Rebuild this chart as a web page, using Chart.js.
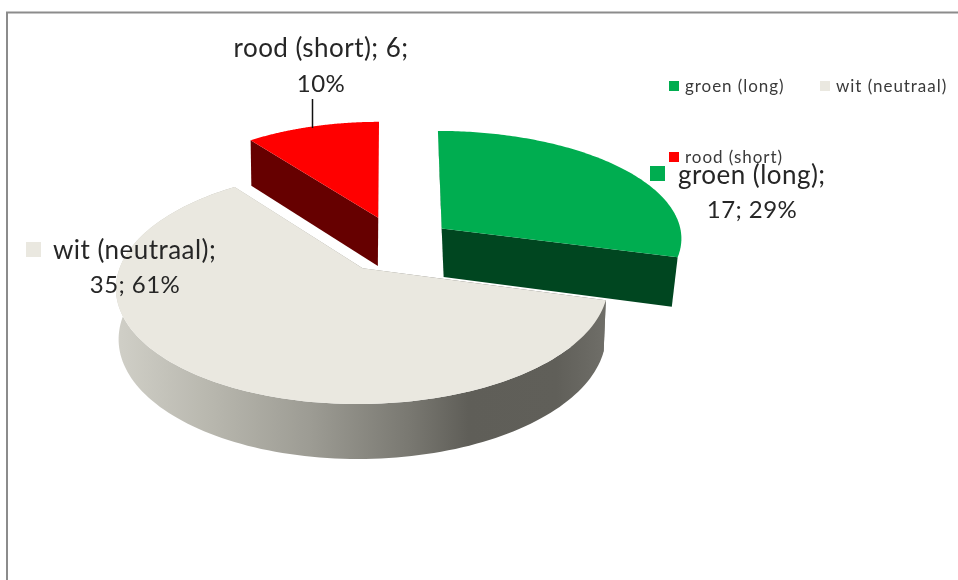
<!DOCTYPE html>
<html>
<head>
<meta charset="utf-8">
<title>groen / wit / rood</title>
<script src="https://cdn.jsdelivr.net/npm/chart.js@4/dist/chart.umd.min.js"></script>
<style>
  html, body { margin: 0; padding: 0; background: #fff; overflow: hidden; }
  canvas { display: block; }
</style>
</head>
<body>
<canvas id="chart-pie" width="958" height="580"></canvas>
<script>
const categories = ['groen (long)', 'wit (neutraal)', 'rood (short)'];
const counts = [17, 35, 6];
const percents = ['29%', '61%', '10%'];

const topColors = ['#00ad50', '#eae8e0', '#ff0000'];
const wallColors = ['#004620', null, '#660000'];

// perspective of the pie plane (screen position of the plane origin, radii)
const ORIGIN = { x: 390, y: 246 };
const RX = 237;
const RY = 108;

// per slice: explode offset in plane units, perspective strength, radius scale
const explode = [[0.221, -0.165], [-0.112, 0.2], [-0.051, -0.266]];
const persp = [0.08, 0.15, 0.08];
const radiusScale = [1.02, 0.995, 0.97];
// bottom face is a bit narrower than the top: centre x, scale
const wallShrink = [[500, 0.967], [390, 0.99], [340, 0.992]];

// back slices first, the big one sits on top of their walls
const drawOrder = [2, 0, 1];

function project(i, u, v) {
  const pu = u * radiusScale[i] + explode[i][0];
  const pv = v + explode[i][1];
  const w = 1 - persp[i] * pv;
  return { x: ORIGIN.x + RX * pu / w, y: ORIGIN.y + RY * pv / w };
}

function lower(i, p) {
  const [cx, s] = wallShrink[i];
  return { x: cx + (p.x - cx) * s, y: p.y + 44 + 0.036 * (p.y - 100) };
}

function witGradient(ctx) {
  const g = ctx.createLinearGradient(117, 0, 605, 0);
  g.addColorStop(0, '#d0cfc7');
  g.addColorStop(0.2, '#b7b6ad');
  g.addColorStop(0.4, '#9c9b93');
  g.addColorStop(0.6, '#797871');
  g.addColorStop(0.72, '#5f5e58');
  g.addColorStop(0.9, '#605f59');
  g.addColorStop(1, '#6f6e68');
  return g;
}

function fillPath(ctx, pts) {
  ctx.beginPath();
  pts.forEach((p, k) => k ? ctx.lineTo(p.x, p.y) : ctx.moveTo(p.x, p.y));
  ctx.closePath();
  ctx.fill();
}

function drawSlice(ctx, i, arc) {
  const apex = project(i, 0, 0);
  const rim = [];
  const steps = 140;
  const sweep = arc.endAngle - arc.startAngle;
  for (let s = 0; s <= steps; s++) {
    const a = arc.startAngle + sweep * s / steps;
    rim.push(project(i, Math.cos(a), Math.sin(a)));
  }
  const first = rim[0];
  const last = rim[steps];

  ctx.fillStyle = wallColors[i] || witGradient(ctx);
  fillPath(ctx, [apex, first, lower(i, first), lower(i, apex)]);
  fillPath(ctx, [apex, last, lower(i, last), lower(i, apex)]);
  // the small slices only show their cut faces from this side
  if (sweep > Math.PI) fillPath(ctx, rim.concat(rim.map(p => lower(i, p)).reverse()));

  ctx.fillStyle = topColors[i];
  fillPath(ctx, [apex].concat(rim));
}

function drawText(ctx, str, x, y, font, color, align, spacing) {
  ctx.font = font;
  ctx.fillStyle = color;
  ctx.textAlign = align;
  ctx.textBaseline = 'alphabetic';
  ctx.letterSpacing = spacing || '0px';
  ctx.fillText(str, x, y);
  ctx.letterSpacing = '0px';
}

function drawLegend(ctx) {
  const font = '17px Lato';
  const color = '#3a3a3a';
  const spots = [[669, 81], [820, 81], [669, 152]];
  categories.forEach((name, i) => {
    ctx.fillStyle = topColors[i];
    ctx.fillRect(spots[i][0], spots[i][1], 10, 10);
    drawText(ctx, name, spots[i][0] + 16, spots[i][1] + 11, font, color, 'left', '0.95px');
  });
}

function drawLabels(ctx) {
  const font = '26px Lato';
  const numFont = '24px Lato';
  const color = '#262626';
  const sp = '0.45px';
  // leader line of the red slice
  ctx.strokeStyle = '#111';
  ctx.lineWidth = 1.5;
  ctx.beginPath();
  ctx.moveTo(312.5, 99);
  ctx.lineTo(312.5, 128);
  ctx.stroke();

  drawText(ctx, `${categories[2]}; ${counts[2]};`, 321, 57, font, color, 'center', sp);
  drawText(ctx, percents[2], 321, 92, numFont, color, 'center', sp);

  ctx.fillStyle = topColors[1];
  ctx.fillRect(26, 242, 15, 15);
  drawText(ctx, `${categories[1]};`, 53, 259, font, color, 'left', sp);
  drawText(ctx, `${counts[1]}; ${percents[1]}`, 135, 293, numFont, color, 'center', sp);

  ctx.fillStyle = topColors[0];
  ctx.fillRect(650, 166, 15, 15);
  drawText(ctx, `${categories[0]};`, 678, 184, font, color, 'left', sp);
  drawText(ctx, `${counts[0]}; ${percents[0]}`, 752, 218, numFont, color, 'center', sp);
}

const pie3d = {
  id: 'pie3d',
  beforeDatasetsDraw(chart) {
    const ctx = chart.ctx;
    const arcs = chart.getDatasetMeta(0).data;
    ctx.save();
    // chart frame, runs off the right and bottom of the shot
    ctx.strokeStyle = '#8c8c8c';
    ctx.lineWidth = 2;
    ctx.beginPath();
    ctx.moveTo(7, 582);
    ctx.lineTo(7, 12.5);
    ctx.lineTo(960, 12.5);
    ctx.stroke();

    drawOrder.forEach(i => drawSlice(ctx, i, arcs[i]));
    drawLegend(ctx);
    drawLabels(ctx);
    ctx.restore();
    return false;
  },
};

new Chart(document.getElementById('chart-pie'), {
  type: 'pie',
  data: {
    labels: categories,
    datasets: [{ data: counts, backgroundColor: topColors, borderWidth: 0 }],
  },
  options: {
    responsive: false,
    animation: false,
    rotation: 0,
    plugins: {
      legend: { display: false },
      tooltip: { enabled: false },
    },
  },
  plugins: [pie3d],
});
</script>
</body>
</html>
